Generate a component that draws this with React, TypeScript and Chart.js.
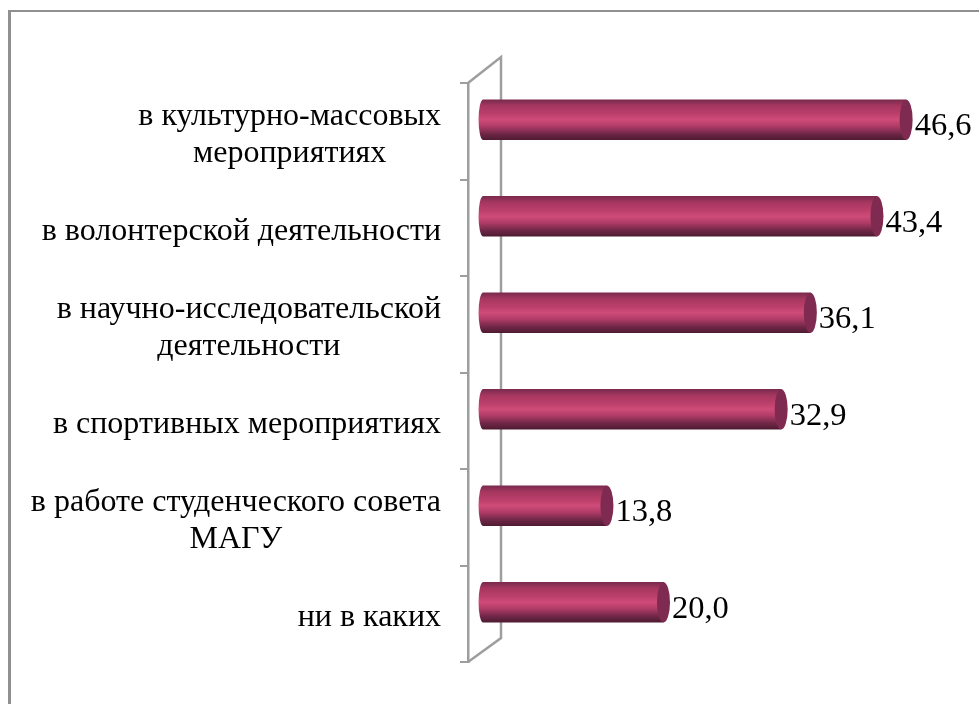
import React, { useEffect, useRef } from "react";
import { Chart, registerables } from "chart.js";

Chart.register(...registerables);

const categories: string[][] = [
  ["в культурно-массовых", "мероприятиях"],
  ["в волонтерской деятельности"],
  ["в научно-исследовательской", "деятельности"],
  ["в спортивных мероприятиях"],
  ["в работе студенческого совета", "МАГУ"],
  ["ни в каких"],
];
const values = [46.6, 43.4, 36.1, 32.9, 13.8, 20.0];
const valueLabels = ["46,6", "43,4", "36,1", "32,9", "13,8", "20,0"];

const SERIF = '"Liberation Serif", "Times New Roman", serif';
const GRAY = "#9e9e9e";
const BAR_SHIFT_Y = -11.5;
const CAP_RX = 6.5;
const BASE_RX = 4.5;
const BAR_THICKNESS = 40;

function barGradient(ctx: CanvasRenderingContext2D, top: number, h: number) {
  const g = ctx.createLinearGradient(0, top, 0, top + h);
  g.addColorStop(0, "#7a2a4e");
  g.addColorStop(0.15, "#a5375f");
  g.addColorStop(0.35, "#bb3f6a");
  g.addColorStop(0.5, "#cf4b78");
  g.addColorStop(0.66, "#b03c67");
  g.addColorStop(0.85, "#702747");
  g.addColorStop(1, "#4f1b32");
  return g;
}

const decor = {
  id: "decor",
  beforeDraw(chart: any) {
    const { ctx } = chart;
    ctx.save();
    ctx.strokeStyle = "#909090";
    ctx.lineWidth = 3;
    ctx.beginPath();
    ctx.moveTo(9.5, 704);
    ctx.lineTo(9.5, 10);
    ctx.stroke();
    ctx.lineWidth = 2;
    ctx.beginPath();
    ctx.moveTo(8, 11);
    ctx.lineTo(979, 11);
    ctx.stroke();
    ctx.restore();
  },
  beforeDatasetsDraw(chart: any) {
    const { ctx, chartArea: a } = chart;
    ctx.save();
    ctx.strokeStyle = GRAY;
    ctx.lineWidth = 2.5;
    ctx.beginPath();
    ctx.moveTo(a.left, a.top);
    ctx.lineTo(a.left + 33, a.top - 26);
    ctx.lineTo(a.left + 33, a.bottom - 24);
    ctx.lineTo(a.left, a.bottom);
    ctx.stroke();
    ctx.restore();

    // left caps sit under the bars, same shift
    const meta = chart.getDatasetMeta(0);
    ctx.save();
    ctx.translate(0, BAR_SHIFT_Y);
    meta.data.forEach((el: any) => {
      const top = el.y - el.height / 2;
      ctx.fillStyle = barGradient(ctx, top, el.height);
      ctx.beginPath();
      ctx.ellipse(el.base, el.y, BASE_RX, el.height / 2, 0, Math.PI / 2, (3 * Math.PI) / 2);
      ctx.fill();
    });
    ctx.restore();
    ctx.save();
    ctx.translate(0, BAR_SHIFT_Y);
  },
  afterDatasetsDraw(chart: any) {
    const { ctx } = chart;
    const meta = chart.getDatasetMeta(0);
    meta.data.forEach((el: any, i: number) => {
      ctx.fillStyle = "#7f2a50";
      ctx.beginPath();
      ctx.ellipse(el.x, el.y, CAP_RX, el.height / 2, 0, 0, Math.PI * 2);
      ctx.fill();
      ctx.fillStyle = "#000";
      ctx.font = `32.5px ${SERIF}`;
      ctx.textAlign = "left";
      ctx.textBaseline = "middle";
      ctx.fillText(valueLabels[i], el.x + CAP_RX + 2, el.y + 7);
    });
    ctx.restore();

    // category labels: lines centred within a block that is right-aligned to the axis
    const y = chart.scales.y;
    ctx.save();
    ctx.fillStyle = "#000";
    ctx.font = `32px ${SERIF}`;
    ctx.textBaseline = "middle";
    ctx.textAlign = "center";
    const right = chart.chartArea.left - 27;
    categories.forEach((lines, i) => {
      const w = Math.max(...lines.map((l) => ctx.measureText(l).width));
      const cx = right - w / 2;
      const cy = y.getPixelForValue(i) + 4;
      const lh = 37;
      lines.forEach((l, k) => {
        ctx.fillText(l, cx, cy + (k - (lines.length - 1) / 2) * lh);
      });
    });
    ctx.restore();
  },
};

export default function App() {
  const ref = useRef<HTMLCanvasElement>(null);
  useEffect(() => {
    const chart = new Chart(ref.current!, {
      type: "bar",
      data: {
        labels: categories.map((c) => c.join(" ")),
        datasets: [
          {
            data: values,
            base: 0.22,
            barThickness: BAR_THICKNESS,
            backgroundColor: (c: any) => {
              const ys = c.chart.scales.y;
              if (!ys || c.dataIndex === undefined) return "#c4426f";
              const mid = ys.getPixelForValue(c.dataIndex);
              if (!Number.isFinite(mid)) return "#c4426f";
              return barGradient(c.chart.ctx, mid - BAR_THICKNESS / 2, BAR_THICKNESS);
            },
            borderWidth: 0,
          } as any,
        ],
      },
      options: {
        indexAxis: "y",
        responsive: false,
        animation: false,
        layout: { padding: { top: 83, bottom: 42, left: 0, right: 9 } },
        plugins: { legend: { display: false }, tooltip: { enabled: false } },
        scales: {
          x: { display: false, min: -1.43, max: 53.6, grid: { display: false } },
          y: {
            afterFit: (s: any) => {
              s.width = 468;
            },
            grid: {
              offset: true,
              drawOnChartArea: false,
              drawTicks: true,
              tickLength: 8,
              color: GRAY,
              lineWidth: 2,
            },
            border: { color: GRAY, width: 2.5 },
            ticks: { display: false },
          },
        },
      } as any,
      plugins: [decor],
    });
    return () => chart.destroy();
  }, []);
  return (
    <div style={{ position: "absolute", left: 0, top: 0, width: 979, height: 704, background: "#fff" }}>
      <canvas ref={ref} width={979} height={704} style={{ display: "block" }} />
    </div>
  );
}
